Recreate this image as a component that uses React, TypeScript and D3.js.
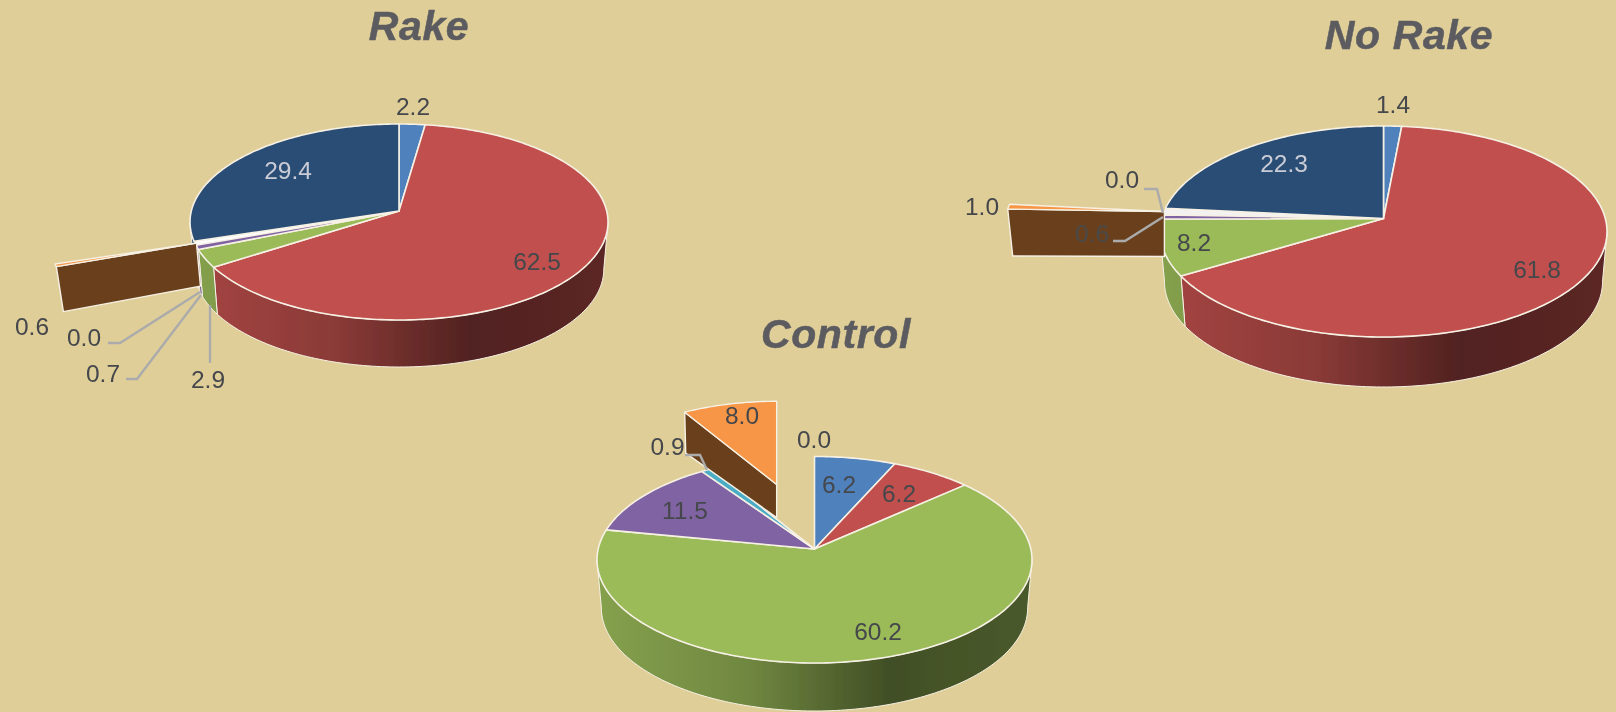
import React from "react";
import * as d3 from "d3";

const seriesNames = ["S1", "S2", "S3", "S4", "S5", "S6", "S7"];
const seriesColors = ["#4F81BD", "#C0504D", "#9BBB59", "#8064A2", "#4BACC6", "#F79646", "#2C4D75"];
const rakeValues = [2.2, 62.5, 2.9, 0.7, 0.0, 0.6, 29.4];
const noRakeValues = [1.4, 61.8, 8.2, 0.6, 0.0, 1.0, 22.3];
const controlValues = [6.2, 6.2, 60.2, 11.5, 0.9, 8.0, 0.0];
const explodedIndex = 5;

type Pt = [number, number];
type LabelPos = { x: number; y: number; fill?: string };
type Layout = {
  title: string; titleX: number; titleY: number; values: number[];
  cx: number; cy: number; rx: number; top: number; bottom: number; thick: number;
  explode: number; wedgeScale: number;
  wallRim: Pt; wallApex: Pt; gap: string | null;
  labels: LabelPos[]; leaders: Pt[][];
};

const DARK = "#44474c";
const LIGHT = "#c9ccd6";

const pies: Layout[] = [
  {
    title: "Rake", titleX: 419, titleY: 40, values: rakeValues,
    cx: 399, cy: 211, rx: 209, top: 87, bottom: 109, thick: 47,
    explode: 1.03, wedgeScale: 0.69, wallRim: [7, 45], wallApex: [4, 43], gap: "#ffffff",
    labels: [
      { x: 413, y: 115 }, { x: 537, y: 270 }, { x: 208, y: 388 }, { x: 103, y: 382 },
      { x: 84, y: 346 }, { x: 32, y: 335 }, { x: 288, y: 179, fill: LIGHT },
    ],
    leaders: [
      [[108, 343], [120, 343], [200, 292]],
      [[126, 379], [137, 379], [201, 295]],
      [[210, 363], [210, 305]],
    ],
  },
  {
    title: "No Rake", titleX: 1409, titleY: 49, values: noRakeValues,
    cx: 1383.5, cy: 218.5, rx: 223.5, top: 92.5, bottom: 118.5, thick: 50,
    explode: 0.99, wedgeScale: 0.71, wallRim: [5, 47], wallApex: [0, 45], gap: "#f4f2f0",
    labels: [
      { x: 1393, y: 113 }, { x: 1537, y: 278 }, { x: 1194, y: 251 }, { x: 1092, y: 242, fill: "#4a4a48" },
      { x: 1122, y: 188 }, { x: 982, y: 215 }, { x: 1284, y: 172, fill: LIGHT },
    ],
    leaders: [
      [[1144, 189], [1157, 189], [1163, 213]],
      [[1113, 241], [1125, 241], [1163, 217]],
    ],
  },
  {
    title: "Control", titleX: 836, titleY: 348, values: controlValues,
    cx: 814.5, cy: 549, rx: 217.5, top: 92.5, bottom: 114, thick: 48,
    explode: 0.655, wedgeScale: 0.9, wallRim: [1, 41], wallApex: [0, 33], gap: null,
    labels: [
      { x: 839, y: 493 }, { x: 899, y: 502 }, { x: 878, y: 640 }, { x: 685, y: 519 },
      { x: 667.5, y: 455 }, { x: 742, y: 424 }, { x: 814, y: 448 },
    ],
    leaders: [[[685, 455], [700, 455], [707, 470]]],
  },
];

const wallStops: [number, number][] = [[0, 0.86], [0.35, 0.72], [0.67, 0.42], [1, 0.48]];
const shade = (c: string, m: number) => {
  const r = d3.rgb(c);
  return d3.rgb(r.r * m, r.g * m, r.b * m).formatHex();
};
const line = d3.line<Pt>();
const closed = d3.line<Pt>().curve(d3.curveLinearClosed);

function projector(p: Layout) {
  const k = (p.bottom - p.top) / (p.bottom + p.top);
  const Ry = p.top * (1 + k);
  const Rx = p.rx * Math.sqrt(1 - k * k);
  const proj = (r: number, a: number): Pt => {
    const u = r * Math.sin(a), v = -r * Math.cos(a), w = 1 - k * v;
    return [p.cx + (Rx * u) / w, p.cy + (Ry * v) / w];
  };
  return { k, Rx, Ry, proj };
}

const arcSamples = (a0: number, a1: number) => {
  const n = Math.max(2, Math.ceil((a1 - a0) / 0.02));
  return d3.range(n + 1).map((i) => a0 + ((a1 - a0) * i) / n);
};

function Pie({ p, id }: { p: Layout; id: number }) {
  const { k, Rx, Ry, proj } = projector(p);
  const arcs = d3.pie<number>().sort(null)(p.values);
  const shrink = 0.02;
  const drop = ([x, y]: Pt, h: number): Pt => [p.cx + (x - p.cx) * (1 - shrink), y + h];
  const aFront0 = Math.PI - Math.acos(k);
  const aFront1 = Math.PI + Math.acos(k);
  const wedge = arcs[explodedIndex];
  const mid = (wedge.startAngle + wedge.endAngle) / 2;
  const apex: Pt = [p.cx + Rx * p.explode * Math.sin(mid), p.cy - Ry * p.explode * Math.cos(mid)];
  const wp = (a: number): Pt => {
    const [x, y] = proj(1, a);
    return [apex[0] + (x - p.cx) * p.wedgeScale, apex[1] + (y - p.cy) * p.wedgeScale];
  };
  const wedgeTop: Pt[] = [apex, ...arcSamples(wedge.startAngle, wedge.endAngle).map(wp)];
  const wedgeEdge = wp(wedge.startAngle);
  const wedgeWall: Pt[] = [
    apex,
    wedgeEdge,
    [wedgeEdge[0] + p.wallRim[0], wedgeEdge[1] + p.wallRim[1]],
    [apex[0] + p.wallApex[0], apex[1] + p.wallApex[1]],
  ];
  const gapPts: Pt[] = [[p.cx, p.cy], ...arcSamples(wedge.startAngle, wedge.endAngle).map((a) => proj(1, a))];
  const edge = "#f6f1e4";
  return (
    <g>
      <defs>
        {seriesColors.map((c, i) => (
          <linearGradient key={i} id={`w${id}-${i}`} gradientUnits="userSpaceOnUse" x1={p.cx - p.rx} x2={p.cx + p.rx} y1={0} y2={0}>
            {wallStops.map(([o, m]) => <stop key={o} offset={o} stopColor={shade(c, m)} />)}
          </linearGradient>
        ))}
      </defs>
      {arcs.map((s, i) => {
        if (i === explodedIndex) return null;
        const a0 = Math.max(s.startAngle, aFront0), a1 = Math.min(s.endAngle, aFront1);
        if (a1 <= a0) return null;
        const rim = arcSamples(a0, a1).map((a) => proj(1, a));
        const bottom = rim.map((q) => drop(q, p.thick)).reverse();
        return <path key={i} d={closed([...rim, ...bottom]) || ""} fill={`url(#w${id}-${i})`} stroke={edge} strokeWidth={1} strokeLinejoin="round" />;
      })}
      {p.gap && <path d={closed(gapPts) || ""} fill={p.gap} />}
      {arcs.map((s, i) => {
        if (i === explodedIndex || s.value === 0) return null;
        const pts: Pt[] = [[p.cx, p.cy], ...arcSamples(s.startAngle, s.endAngle).map((a) => proj(1, a))];
        return <path key={i} d={closed(pts) || ""} fill={seriesColors[i]} stroke={edge} strokeWidth={1.6} strokeLinejoin="round" />;
      })}
      <path d={closed(wedgeWall) || ""} fill={shade(seriesColors[explodedIndex], 0.43)} stroke={edge} strokeWidth={1.4} strokeLinejoin="round" />
      <path d={closed(wedgeTop) || ""} fill={seriesColors[explodedIndex]} stroke={edge} strokeWidth={1.4} strokeLinejoin="round" />
      {p.leaders.map((l, i) => (
        <path key={i} d={line(l) || ""} fill="none" stroke="#ababab" strokeWidth={2.4} />
      ))}
      {p.labels.map((l, i) => (
        <text key={i} x={l.x} y={l.y} textAnchor="middle" fontFamily="'Liberation Sans', Arial, sans-serif" fontSize={24.5} fill={l.fill || DARK}>
          {p.values[i].toFixed(1)}
        </text>
      ))}
      <text x={p.titleX} y={p.titleY} textAnchor="middle" fontFamily="'Liberation Sans', Arial, sans-serif" fontWeight="bold" fontStyle="italic" fontSize={41} letterSpacing={0.6} fill="#5b5c60" stroke="#5b5c60" strokeWidth={0.5}>
        {p.title}
      </text>
    </g>
  );
}

export default function App() {
  return (
    <svg width={1616} height={712} viewBox="0 0 1616 712" style={{ position: "absolute", left: 0, top: 0, display: "block" }} aria-label={seriesNames.join(" ")}>
      <defs>
        <filter id="soft" x="0" y="0" width="1616" height="712" filterUnits="userSpaceOnUse">
          <feGaussianBlur stdDeviation="0.45" />
        </filter>
      </defs>
      <rect width={1616} height={712} fill="#E0CE98" />
      <g filter="url(#soft)">
        {pies.map((p, i) => <Pie key={p.title} p={p} id={i} />)}
      </g>
    </svg>
  );
}
